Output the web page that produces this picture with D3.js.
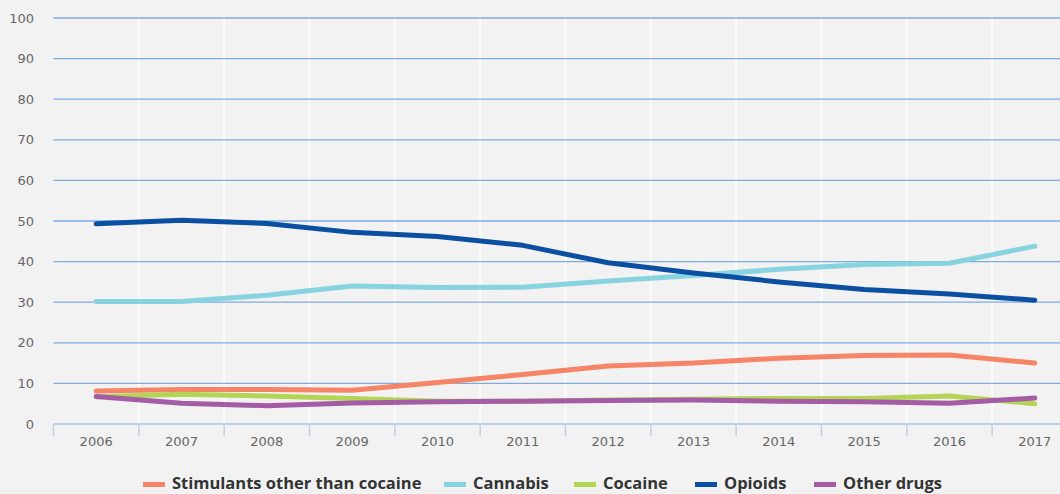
<!DOCTYPE html>
<html><head><meta charset="utf-8">
<script src="https://cdn.jsdelivr.net/npm/d3@7/dist/d3.min.js"></script>
<style>
html,body{margin:0;padding:0;background:#f2f2f2;}
svg{display:block;font-family:"DejaVu Sans",Verdana,sans-serif;}
</style></head><body>
<svg id="c" width="1060" height="494"></svg>
<script>
const years = ["2006","2007","2008","2009","2010","2011","2012","2013","2014","2015","2016","2017"];
const stimulants = [8.1,8.5,8.5,8.3,10.2,12.2,14.3,15.0,16.2,16.9,17.0,15.0];
const cannabis   = [30.2,30.2,31.7,34.0,33.6,33.7,35.2,36.6,38.1,39.3,39.6,43.8];
const cocaine    = [6.7,7.3,6.9,6.3,5.6,5.6,5.9,6.1,6.3,6.3,6.9,5.0];
const opioids    = [49.3,50.2,49.4,47.2,46.2,44.0,39.7,37.2,35.0,33.1,32.0,30.5];
const otherDrugs = [6.8,5.1,4.5,5.2,5.5,5.6,5.8,5.9,5.6,5.5,5.1,6.4];
const seriesNames = ["Stimulants other than cocaine","Cannabis","Cocaine","Opioids","Other drugs"];
const seriesColors = ["#f58566","#87d3e0","#b3d455","#0b4fa2","#a45ca6"];
const yTicks = [0,10,20,30,40,50,60,70,80,90,100];

const series = [stimulants,cannabis,cocaine,opioids,otherDrugs];
const svg = d3.select("#c");
const W = 1060;
const left = 53.5, band = 85.33;
const x = d3.scaleBand().domain(years).range([left, left + band*years.length]).paddingInner(0).paddingOuter(0);
const y = d3.scaleLinear().domain([0,100]).range([424,18]);

svg.append("rect").attr("width",1060).attr("height",494).attr("fill","#f2f2f2");

// vertical gridlines (white) at band boundaries
const g = svg.append("g");
years.forEach((yr,i)=>{
  if(i===0) return;
  g.append("line").attr("x1",x(yr)).attr("x2",x(yr)).attr("y1",y(100)).attr("y2",y(0))
    .attr("stroke","#ffffff").attr("stroke-width",1.5);
});
// horizontal gridlines
yTicks.forEach(t=>{
  if(t===0) return;
  g.append("line").attr("x1",left).attr("x2",W).attr("y1",y(t)).attr("y2",y(t))
    .attr("stroke","#7fabe0").attr("stroke-width",1.3);
});

// y axis labels
const yAxis = d3.axisLeft(y).tickValues(yTicks).tickSize(0).tickPadding(0);
const ya = svg.append("g").attr("transform","translate(34,0)").call(yAxis);
ya.select(".domain").remove();
ya.selectAll("text").attr("fill","#666").style("font-size","13px").style("font-family","DejaVu Sans, sans-serif");

// x axis
const xAxis = d3.axisBottom(x).tickSize(0).tickPadding(13);
const xa = svg.append("g").attr("transform","translate(0,424)").call(xAxis);
xa.select(".domain").remove();
xa.selectAll("text").attr("fill","#666").style("font-size","13px").style("font-family","DejaVu Sans, sans-serif");
xa.append("line").attr("x1",left).attr("x2",W).attr("y1",0).attr("y2",0).attr("stroke","#bccfea").attr("stroke-width",2);
years.forEach((yr,i)=>{
  xa.append("line").attr("x1",x(yr)).attr("x2",x(yr)).attr("y1",0).attr("y2",12).attr("stroke","#bccfea").attr("stroke-width",1.5);
});

// lines
const line = d3.line().x((d,i)=>x(years[i])+x.bandwidth()/2).y(d=>y(d));
series.forEach((s,k)=>{
  svg.append("path").datum(s).attr("d",line).attr("fill","none")
    .attr("stroke",seriesColors[k]).attr("stroke-width",5)
    .attr("stroke-linecap","round").attr("stroke-linejoin","round");
});

// legend
const legendTextX = [172,473,603,724,843];
const lg = svg.append("g");
seriesNames.forEach((n,k)=>{
  lg.append("rect").attr("x",legendTextX[k]-29).attr("y",482).attr("width",22).attr("height",5).attr("fill",seriesColors[k]);
  lg.append("text").attr("x",legendTextX[k]).attr("y",489).text(n)
    .attr("fill","#333").style("font-family","'Open Sans', sans-serif").style("font-size","16.5px").style("font-weight","bold");
});
</script>
</body></html>
